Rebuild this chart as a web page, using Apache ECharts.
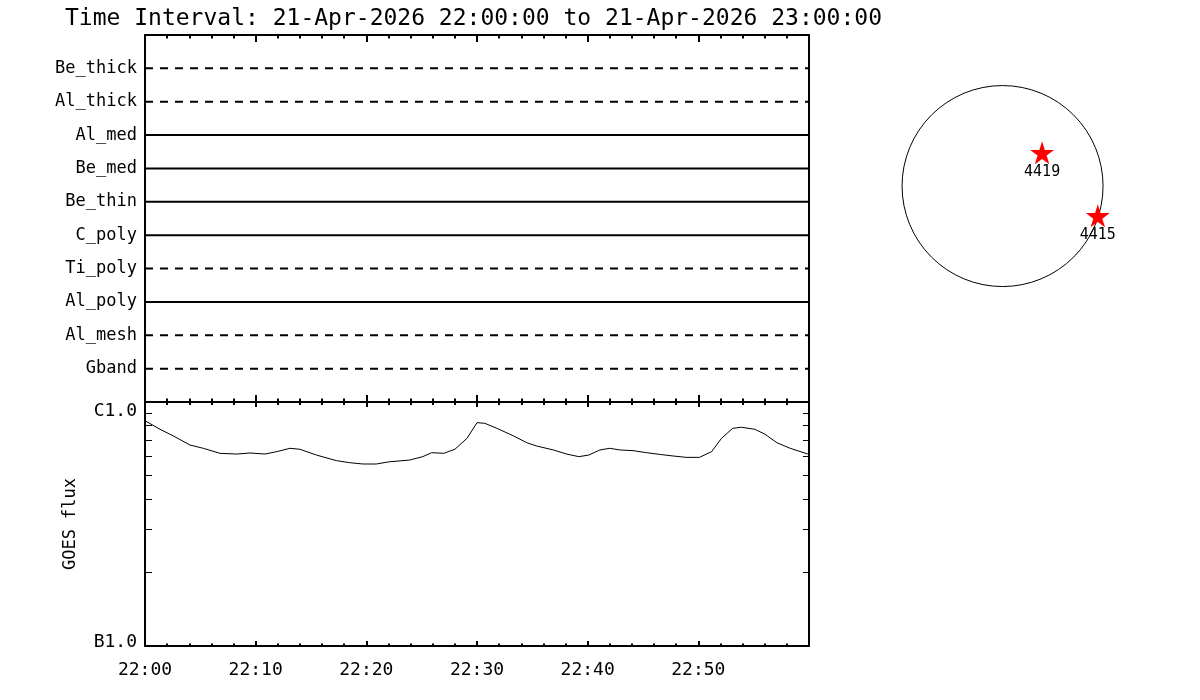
<!DOCTYPE html>
<html><head><meta charset="utf-8">
<script src="https://cdn.jsdelivr.net/npm/echarts@6/dist/echarts.min.js"></script>
<style>html,body{margin:0;padding:0;background:#fff}#c{width:1200px;height:700px}</style>
</head><body><div id="c"></div>
<script>
const titleText = 'Time Interval: 21-Apr-2026 22:00:00 to 21-Apr-2026 23:00:00';
const channels = ['Be_thick','Al_thick','Al_med','Be_med','Be_thin','C_poly','Ti_poly','Al_poly','Al_mesh','Gband'];
const channelDashed = [true,true,false,false,false,false,true,false,true,true];
const timeRange = [0, 60]; // minutes after 22:00
const xTickLabels = ['22:00','22:10','22:20','22:30','22:40','22:50'];
const goesMinutes = [0,1.36,2.56,4.07,5.27,6.78,8.29,9.49,10.84,11.9,13.1,14.0,15.5,17.3,18.5,19.7,20.9,22.1,23.9,25.1,25.9,27.0,28.0,29.1,30.0,30.7,31.8,33.3,34.5,35.4,36.9,38.1,39.2,40.1,41.1,42.0,42.9,44.1,45.3,46.5,47.7,48.9,50.1,51.2,52.1,53.1,53.9,55.1,56.0,57.1,58.3,59.9];
const goesFlux = [8.38e-7,7.73e-7,7.26e-7,6.66e-7,6.46e-7,6.16e-7,6.12e-7,6.18e-7,6.12e-7,6.26e-7,6.46e-7,6.40e-7,6.06e-7,5.75e-7,5.64e-7,5.57e-7,5.57e-7,5.69e-7,5.78e-7,5.97e-7,6.20e-7,6.16e-7,6.40e-7,7.10e-7,8.23e-7,8.18e-7,7.80e-7,7.26e-7,6.81e-7,6.60e-7,6.36e-7,6.12e-7,5.97e-7,6.06e-7,6.36e-7,6.46e-7,6.36e-7,6.32e-7,6.20e-7,6.10e-7,6.01e-7,5.93e-7,5.93e-7,6.26e-7,7.10e-7,7.80e-7,7.88e-7,7.73e-7,7.39e-7,6.81e-7,6.46e-7,6.12e-7];
const fluxRange = [1e-7, 1e-6];
const fluxLabels = ['B1.0','C1.0'];
const fluxMinorTicks = [2e-7,3e-7,4e-7,5e-7,6e-7,7e-7,8e-7,9e-7];
const regionNames = ['4419','4415'];
const regionX = [377, 908];
const regionY = [318, -283];
const diskCenter = [[0, 0]];

const FONT = 'DejaVu Sans Mono';
const BLACK = '#000';
const starPath = 'path://M50,0 L61,35 L98,35 L68,57 L79,91 L50,70 L21,91 L32,57 L2,35 L39,35 Z';

function frameX(grid, pos, showLabel, tickLen, minorLen) {
  return {
    type: 'value', gridIndex: grid, position: pos, min: timeRange[0], max: timeRange[1], interval: 10,
    axisLine: { show: true, onZero: false, lineStyle: { color: BLACK, width: 2 } },
    axisTick: { show: true, inside: true, length: tickLen, lineStyle: { color: BLACK, width: 2 } },
    minorTick: { show: true, splitNumber: 5, length: minorLen, lineStyle: { color: BLACK, width: 2 } },
    splitLine: { show: false }, minorSplitLine: { show: false },
    axisLabel: {
      show: showLabel, color: BLACK, fontFamily: FONT, fontSize: 18, margin: 15,
      formatter: v => { const i = Math.round(v / 10); return (Math.abs(v - i * 10) < 1e-6 && i < xTickLabels.length) ? xTickLabels[i] : ''; }
    }
  };
}

const xAxes = [
  frameX(0, 'bottom', false, 7, 3.5),
  frameX(0, 'top', false, 7, 3.5),
  frameX(1, 'bottom', true, 5, 2.5),
  frameX(1, 'top', false, 5, 3),
  { type: 'value', gridIndex: 2, min: -1050, max: 1050, show: false }
];

const yAxes = [
  {
    type: 'value', gridIndex: 0, position: 'left', min: 0, max: channels.length + 1, interval: 1,
    axisLine: { show: true, onZero: false, lineStyle: { color: BLACK, width: 2 } },
    axisTick: { show: false }, splitLine: { show: false },
    axisLabel: { color: BLACK, fontFamily: FONT, fontSize: 17, margin: 8,
      formatter: v => (v >= 1 && v <= channels.length) ? channels[channels.length - v] : '' }
  },
  {
    type: 'value', gridIndex: 0, position: 'right', min: 0, max: channels.length + 1, interval: 1,
    axisLine: { show: true, onZero: false, lineStyle: { color: BLACK, width: 2 } },
    axisTick: { show: false }, axisLabel: { show: false }, splitLine: { show: false }
  },
  {
    type: 'log', logBase: 10, gridIndex: 1, position: 'left', min: fluxRange[0], max: fluxRange[1],
    name: 'GOES flux', nameLocation: 'middle', nameGap: 66,
    nameTextStyle: { color: BLACK, fontFamily: FONT, fontSize: 17 },
    axisLine: { show: true, onZero: false, lineStyle: { color: BLACK, width: 2 } },
    axisTick: { show: true, inside: true, length: 7, customValues: fluxMinorTicks, lineStyle: { color: BLACK, width: 1 } },
    splitLine: { show: false },
    axisLabel: {
      color: BLACK, fontFamily: FONT, fontSize: 18, margin: 8, customValues: fluxRange,
      formatter: v => Math.abs(Math.log10(v) - Math.log10(fluxRange[1])) < 0.01 ? '{t|' + fluxLabels[1] + '}' : '{b|' + fluxLabels[0] + '}',
      rich: {
        t: { fontFamily: FONT, fontSize: 18, color: BLACK, padding: [18, 0, 0, 0] },
        b: { fontFamily: FONT, fontSize: 18, color: BLACK, padding: [0, 0, 8, 0] }
      }
    }
  },
  {
    type: 'log', logBase: 10, gridIndex: 1, position: 'right', min: fluxRange[0], max: fluxRange[1],
    axisLine: { show: true, onZero: false, lineStyle: { color: BLACK, width: 2 } },
    axisTick: { show: true, inside: true, length: 6, customValues: fluxMinorTicks, lineStyle: { color: BLACK, width: 1 } },
    splitLine: { show: false }, axisLabel: { show: false }
  },
  { type: 'value', gridIndex: 2, min: -1050, max: 1050, show: false }
];

const series = [];
channels.forEach((name, i) => {
  const yv = channels.length - i;
  series.push({
    type: 'line', name: name, xAxisIndex: 0, yAxisIndex: 0, symbol: 'none', silent: true,
    data: [[timeRange[0], yv], [timeRange[1], yv]],
    lineStyle: { color: BLACK, width: 2, type: channelDashed[i] ? [8, 7] : 'solid' }
  });
});
series.push({
  type: 'line', name: 'GOES', xAxisIndex: 2, yAxisIndex: 2, symbol: 'none', silent: true,
  data: goesMinutes.map((t, i) => [t, goesFlux[i]]),
  lineStyle: { color: BLACK, width: 1 }
});
series.push({
  type: 'scatter', name: 'disk', xAxisIndex: 4, yAxisIndex: 4, silent: true,
  data: diskCenter, symbol: 'circle', symbolSize: 201,
  itemStyle: { color: 'rgba(0,0,0,0)', borderColor: BLACK, borderWidth: 1, opacity: 1 }
});
series.push({
  type: 'scatter', name: 'regions', xAxisIndex: 4, yAxisIndex: 4, silent: true,
  data: regionNames.map((n, i) => ({ name: n, value: [regionX[i], regionY[i]] })),
  symbol: starPath, symbolSize: [24, 23],
  itemStyle: { color: '#ff0000', opacity: 1 },
  label: { show: true, position: 'bottom', distance: 0, formatter: '{b}', color: BLACK, fontFamily: FONT, fontSize: 15 }
});

const chart = echarts.init(document.getElementById('c'), null, { renderer: 'canvas' });
chart.setOption({
  animation: false,
  backgroundColor: '#fff',
  title: { text: titleText, left: 60, top: 3, textStyle: { color: BLACK, fontFamily: FONT, fontSize: 23, fontWeight: 'normal' } },
  grid: [
    { left: 145, top: 35, width: 664, height: 367 },
    { left: 145, top: 402, width: 664, height: 244 },
    { left: 892.4, top: 75.9, width: 220.3, height: 220.3 }
  ],
  xAxis: xAxes,
  yAxis: yAxes,
  series: series
});
</script></body></html>
